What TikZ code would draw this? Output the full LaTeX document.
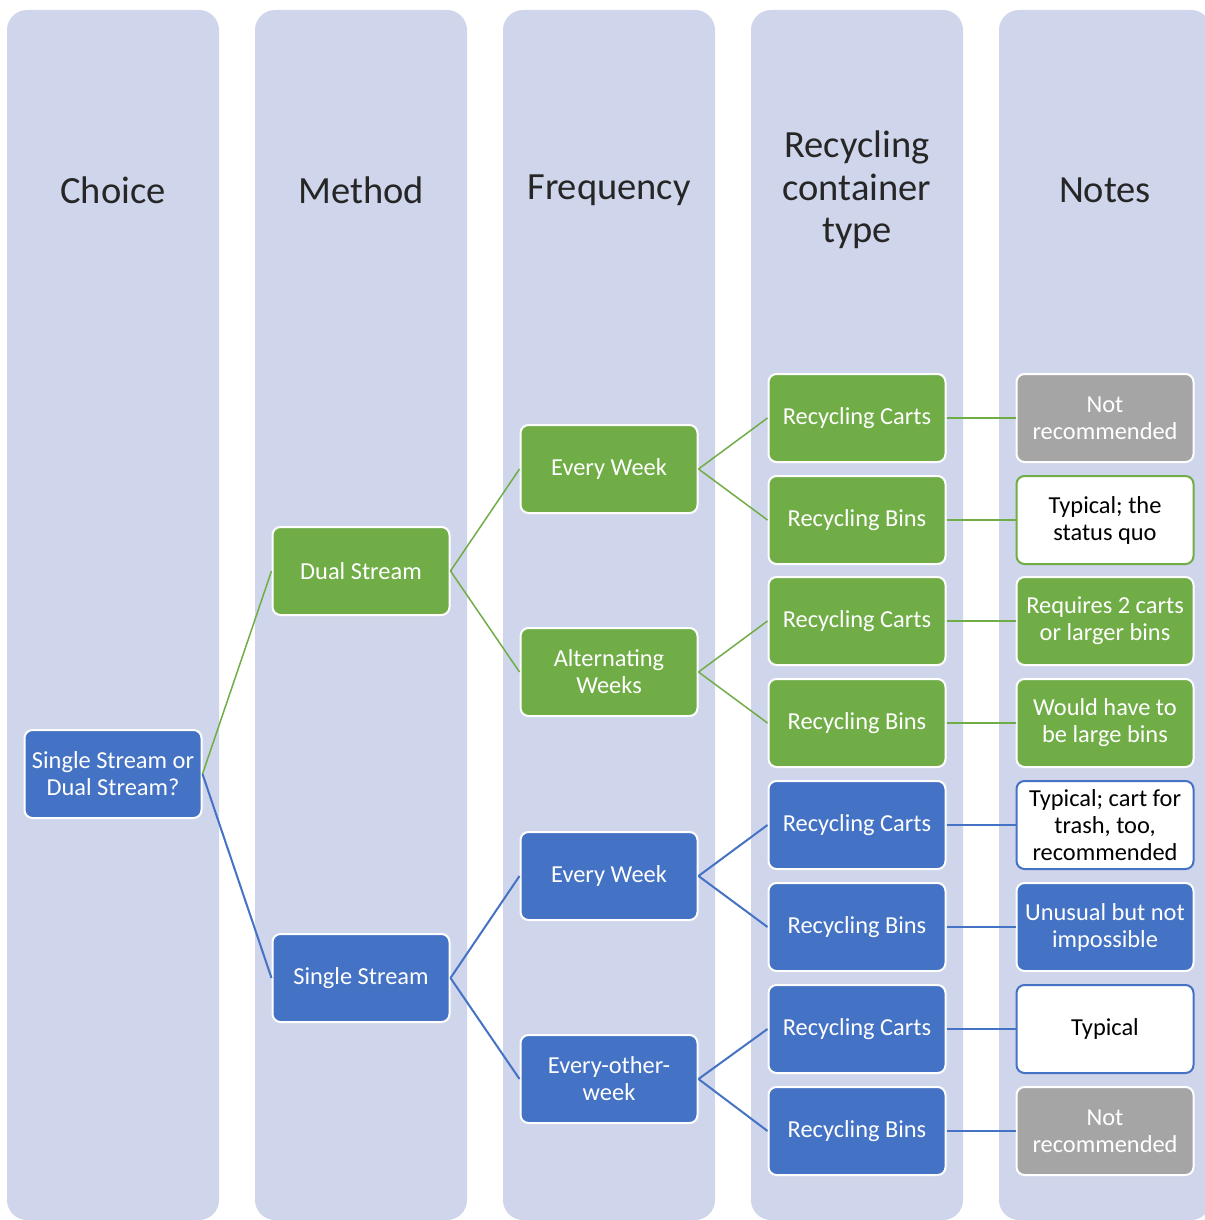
\documentclass[tikz,border=0pt]{standalone}
\usepackage{fontspec}
\setmainfont{Carlito}
\usetikzlibrary{positioning}
\definecolor{lanebg}{HTML}{CFD5EA}
\definecolor{dualgreen}{HTML}{70AD47}
\definecolor{singleblue}{HTML}{4472C4}
\definecolor{notgray}{HTML}{A5A5A5}

\begin{document}
\begin{tikzpicture}
            [x=1pt,y=-1pt,
            every node/.style={font=\fontsize{24.4}{27}\selectfont,align=center},
            lane/.style={fill=lanebg,rounded corners=20pt},
            head/.style={font=\fontsize{38.5}{42.5}\selectfont,text=black!85},
            box/.style={rectangle,rounded corners=8pt,draw=white,line width=2pt,minimum width=177pt,minimum height=88pt,text=white,inner sep=1pt},
            green box/.style={box,fill=dualgreen},
            blue box/.style={box,fill=singleblue},
            gray box/.style={box,fill=notgray},
            note/.style={box,fill=white,text=black,draw=#1},
            dual link/.style={draw=dualgreen,line width=1.5pt},
            single link/.style={draw=singleblue,line width=2pt}
            ]
            \useasboundingbox (0,0) rectangle (1204,1220);
            % lanes and their titles
            \foreach \x in {113,361,609,857,1105}
              \fill[lane] (\x-106,10) rectangle (\x+106,1220);
            \node[head] (hchoice) at (113,190) {Choice};
            \node[head] (hmethod) at (361,190) {Method};
            \node[head] (hfreq) at (609,190) {Frequency};
            \node[head] (hcont) at (857,190) {Recycling\\container\\type};
            \node[head] (hnotes) at (1105,190) {Notes};
            % choice and method
            \node[blue box] (choice) at (113,774) {Single Stream or\\Dual Stream?};
            \node[green box] (dual) at (361,571) {Dual Stream};
            \node[blue box] (single) at (361,978) {Single Stream};
            % frequency
            \node[green box] (dweek) at (609,469) {Every Week};
            \node[green box] (dalt) at (609,672) {Alternating\\Weeks};
            \node[blue box] (sweek) at (609,876) {Every Week};
            \node[blue box] (salt) at (609,1079) {Every-other-\\week};
            % containers
            \node[green box] (c1) at (857,418) {Recycling Carts};
            \node[green box] (c2) at (857,520) {Recycling Bins};
            \node[green box] (c3) at (857,621) {Recycling Carts};
            \node[green box] (c4) at (857,723) {Recycling Bins};
            \node[blue box] (c5) at (857,825) {Recycling Carts};
            \node[blue box] (c6) at (857,927) {Recycling Bins};
            \node[blue box] (c7) at (857,1029) {Recycling Carts};
            \node[blue box] (c8) at (857,1131) {Recycling Bins};
            % notes
            \node[gray box] (n1) at (1105,418) {Not\\recommended};
            \node[note=dualgreen] (n2) at (1105,520) {Typical; the\\status quo};
            \node[green box] (n3) at (1105,621) {Requires 2 carts\\or larger bins};
            \node[green box] (n4) at (1105,723) {Would have to\\be large bins};
            \node[note=singleblue] (n5) at (1105,825) {Typical; cart for\\trash, too,\\recommended};
            \node[blue box] (n6) at (1105,927) {Unusual but not\\impossible};
            \node[note=singleblue] (n7) at (1105,1029) {Typical};
            \node[gray box] (n8) at (1105,1131) {Not\\recommended};
            % links
            \draw[dual link] (choice.east) -- (dual.west);
            \draw[single link] (choice.east) -- (single.west);
            \draw[dual link] (dual.east) -- (dweek.west);
            \draw[dual link] (dual.east) -- (dalt.west);
            \draw[single link] (single.east) -- (sweek.west);
            \draw[single link] (single.east) -- (salt.west);
            \draw[dual link] (dweek.east) -- (c1.west);
            \draw[dual link] (dweek.east) -- (c2.west);
            \draw[dual link] (dalt.east) -- (c3.west);
            \draw[dual link] (dalt.east) -- (c4.west);
            \draw[single link] (sweek.east) -- (c5.west);
            \draw[single link] (sweek.east) -- (c6.west);
            \draw[single link] (salt.east) -- (c7.west);
            \draw[single link] (salt.east) -- (c8.west);
            \foreach \i in {1,...,4}
              \draw[dual link] (c\i.east) -- (n\i.west);
            \foreach \i in {5,...,8}
              \draw[single link] (c\i.east) -- (n\i.west);
          \end{tikzpicture}
\end{document}
